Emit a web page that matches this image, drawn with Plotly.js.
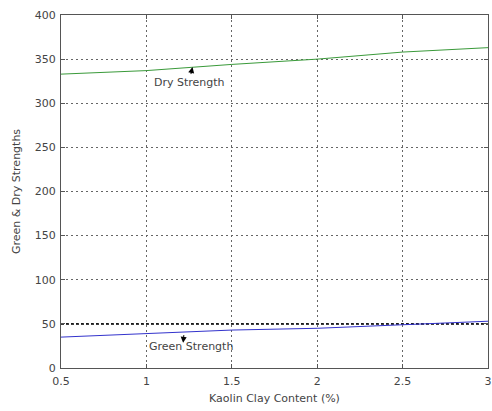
<!DOCTYPE html>
<html><head><meta charset="utf-8">
<script src="https://cdn.plot.ly/plotly-3.0.1.min.js"></script>
<style>html,body{margin:0;padding:0;background:#fff}#c{width:492px;height:411px}</style>
</head><body><div id="c"></div>
<script>
const kaolin = [0.5, 1, 1.5, 2, 2.5, 3];
const dryStrength = [333, 337, 344, 350, 358, 363];
const greenStrength = [35, 39, 43, 45, 49, 53];
const refX = [0.5, 3];
const refY = [50, 50];
const xTicks = [0.5, 1, 1.5, 2, 2.5, 3];
const xTickText = ['0.5', '1', '1.5', '2', '2.5', '3'];
const yTicks = [0, 50, 100, 150, 200, 250, 300, 350, 400];

const font = {family: 'DejaVu Sans, sans-serif', size: 11, color: '#444'};
const traces = [
  {x: refX, y: refY, mode: 'lines', line: {color: '#000', width: 1.5, dash: '3px,2px'}, hoverinfo: 'skip'},
  {x: kaolin, y: dryStrength, mode: 'lines', line: {color: '#3a9a3a', width: 1}, name: 'Dry Strength'},
  {x: kaolin, y: greenStrength, mode: 'lines', line: {color: '#3333cc', width: 1}, name: 'Green Strength'}
];
const axisCommon = {
  showline: true, linecolor: '#555', linewidth: 1, mirror: 'ticks',
  ticks: 'inside', ticklen: 4, tickcolor: '#555',
  showgrid: true, gridcolor: '#666', gridwidth: 1, griddash: '2px,3px',
  zeroline: false, tickfont: font, automargin: false, ticklabeloverflow: 'allow'
};
const layout = {
  width: 492, height: 411,
  margin: {l: 61, r: 4, t: 15, b: 43},
  paper_bgcolor: '#fff', plot_bgcolor: '#fff',
  showlegend: false,
  font: font,
  xaxis: Object.assign({}, axisCommon, {
    range: [0.5, 3], tickvals: xTicks, ticktext: xTickText, ticklabelstandoff: 3,
    title: {text: 'Kaolin Clay Content (%)', font: font, standoff: 7}
  }),
  yaxis: Object.assign({}, axisCommon, {
    range: [0, 400], tickvals: yTicks, ticklabelstandoff: 2,
    title: {text: 'Green & Dry Strengths', font: font, standoff: 11}
  }),
  annotations: [
    {x: 1.27, y: 341, ax: 1.25, ay: 324, axref: 'x', ayref: 'y', text: 'Dry Strength',
     showarrow: true, arrowhead: 2, arrowsize: 1.2, arrowwidth: 1, arrowcolor: '#000', font: font},
    {x: 1.215, y: 28.5, ax: 1.22, ay: 39, axref: 'x', ayref: 'y', text: '',
     showarrow: true, arrowhead: 2, arrowsize: 1.2, arrowwidth: 1, arrowcolor: '#000'},
    {x: 1.26, y: 24, text: 'Green Strength', showarrow: false, font: font}
  ]
};
Plotly.newPlot('c', traces, layout, {staticPlot: true});
</script></body></html>
